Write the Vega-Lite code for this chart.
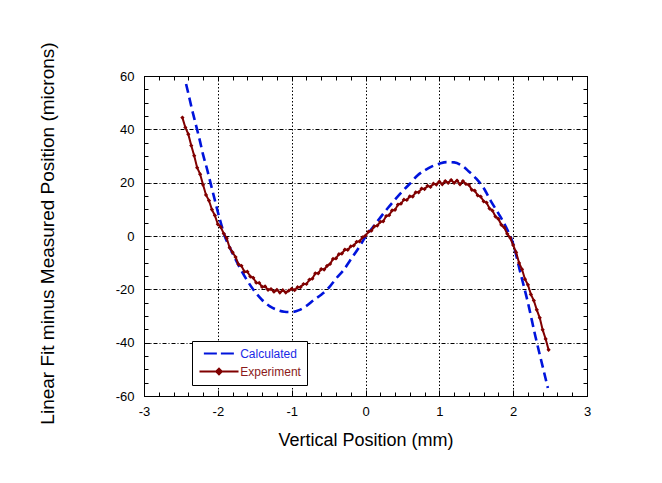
{
  "$schema": "https://vega.github.io/schema/vega-lite/v6.json",
  "width": 443,
  "height": 320,
  "autosize": {"type": "none"},
  "padding": {"left": 144, "top": 76, "right": 75, "bottom": 87},
  "background": "white",
  "config": {
    "font": "Liberation Sans",
    "view": {"stroke": "black", "strokeWidth": 1},
    "axis": {
      "domain": false,
      "tickColor": "black",
      "tickWidth": 1,
      "labelColor": "black",
      "titleColor": "black",
      "labelFont": "Liberation Sans",
      "titleFont": "Liberation Sans",
      "titleFontWeight": "normal",
      "labelFontSize": 13,
      "labelFlush": false,
      "labelOverlap": false
    }
  },
  "datasets": {
    "calc": [
      {"x": -2.43, "y": 57}, {"x": -2.4, "y": 53.5}, {"x": -2.35, "y": 47.5}, {"x": -2.3, "y": 42},
      {"x": -2.25, "y": 36.5}, {"x": -2.2, "y": 30.5}, {"x": -2.15, "y": 25.5}, {"x": -2.1, "y": 20},
      {"x": -2.05, "y": 14.5}, {"x": -2.0, "y": 9}, {"x": -1.95, "y": 4}, {"x": -1.9, "y": -0.5},
      {"x": -1.85, "y": -3.6}, {"x": -1.8, "y": -6.5}, {"x": -1.7, "y": -12}, {"x": -1.6, "y": -16.8},
      {"x": -1.5, "y": -20.8}, {"x": -1.4, "y": -24}, {"x": -1.3, "y": -26.3}, {"x": -1.2, "y": -27.7},
      {"x": -1.1, "y": -28.4}, {"x": -1.0, "y": -28.5}, {"x": -0.9, "y": -27.8}, {"x": -0.8, "y": -26.2},
      {"x": -0.7, "y": -24}, {"x": -0.6, "y": -22}, {"x": -0.5, "y": -19.5}, {"x": -0.4, "y": -16},
      {"x": -0.3, "y": -12.9}, {"x": -0.2, "y": -8.8}, {"x": -0.1, "y": -4.8}, {"x": 0, "y": -0.3},
      {"x": 0.1, "y": 3.3}, {"x": 0.2, "y": 6.9}, {"x": 0.3, "y": 10.4}, {"x": 0.4, "y": 13.7},
      {"x": 0.5, "y": 16.8}, {"x": 0.6, "y": 19.6}, {"x": 0.7, "y": 22.6}, {"x": 0.8, "y": 24.6},
      {"x": 0.9, "y": 26.1}, {"x": 1.0, "y": 27.1}, {"x": 1.1, "y": 27.7}, {"x": 1.2, "y": 27.6},
      {"x": 1.3, "y": 26.5}, {"x": 1.4, "y": 24.2}, {"x": 1.5, "y": 21.5}, {"x": 1.6, "y": 18},
      {"x": 1.7, "y": 13}, {"x": 1.8, "y": 8.5}, {"x": 1.9, "y": 3.5}, {"x": 2.0, "y": -3},
      {"x": 2.1, "y": -14}, {"x": 2.2, "y": -25}, {"x": 2.3, "y": -37.5}, {"x": 2.4, "y": -49},
      {"x": 2.47, "y": -57}
    ],
    "exp": [
      {"x": -2.48, "y": 44.4}, {"x": -2.44, "y": 40.7}, {"x": -2.40, "y": 38.2}, {"x": -2.36, "y": 33.9},
      {"x": -2.32, "y": 30.1}, {"x": -2.28, "y": 25.6}, {"x": -2.24, "y": 23.2}, {"x": -2.20, "y": 19.2},
      {"x": -2.16, "y": 15.4}, {"x": -2.12, "y": 13.3}, {"x": -2.08, "y": 9.9}, {"x": -2.04, "y": 7.7},
      {"x": -2.00, "y": 4.4}, {"x": -1.96, "y": 3.3}, {"x": -1.92, "y": 0.9}, {"x": -1.88, "y": -0.8},
      {"x": -1.84, "y": -4.4}, {"x": -1.80, "y": -6.1}, {"x": -1.76, "y": -7.9}, {"x": -1.72, "y": -10.6},
      {"x": -1.68, "y": -11.2}, {"x": -1.64, "y": -13.4}, {"x": -1.60, "y": -13.4}, {"x": -1.56, "y": -15.2},
      {"x": -1.52, "y": -15.7}, {"x": -1.48, "y": -17.5}, {"x": -1.44, "y": -17.6}, {"x": -1.40, "y": -19.1},
      {"x": -1.36, "y": -18.9}, {"x": -1.32, "y": -20.2}, {"x": -1.28, "y": -19.9}, {"x": -1.24, "y": -20.9},
      {"x": -1.20, "y": -20.2}, {"x": -1.16, "y": -21.2}, {"x": -1.12, "y": -20.3}, {"x": -1.08, "y": -21.2},
      {"x": -1.04, "y": -20.5}, {"x": -1.00, "y": -19.8}, {"x": -0.96, "y": -20.3}, {"x": -0.92, "y": -19.2},
      {"x": -0.88, "y": -19.2}, {"x": -0.84, "y": -18.0}, {"x": -0.80, "y": -18.0}, {"x": -0.76, "y": -16.4},
      {"x": -0.72, "y": -16.0}, {"x": -0.68, "y": -14.0}, {"x": -0.64, "y": -14.0}, {"x": -0.60, "y": -12.4},
      {"x": -0.56, "y": -12.6}, {"x": -0.52, "y": -11.2}, {"x": -0.48, "y": -10.5}, {"x": -0.44, "y": -8.6},
      {"x": -0.40, "y": -8.4}, {"x": -0.36, "y": -6.8}, {"x": -0.32, "y": -6.6}, {"x": -0.28, "y": -5.1},
      {"x": -0.24, "y": -5.2}, {"x": -0.20, "y": -3.9}, {"x": -0.16, "y": -3.6}, {"x": -0.12, "y": -2.2},
      {"x": -0.08, "y": -2.0}, {"x": -0.04, "y": -0.5}, {"x": 0.00, "y": 0.1}, {"x": 0.04, "y": 1.6},
      {"x": 0.08, "y": 2.0}, {"x": 0.12, "y": 3.6}, {"x": 0.16, "y": 3.9}, {"x": 0.20, "y": 5.3},
      {"x": 0.24, "y": 5.5}, {"x": 0.28, "y": 7.5}, {"x": 0.32, "y": 7.8}, {"x": 0.36, "y": 9.6},
      {"x": 0.40, "y": 9.8}, {"x": 0.44, "y": 11.8}, {"x": 0.48, "y": 12.1}, {"x": 0.52, "y": 13.6},
      {"x": 0.56, "y": 13.5}, {"x": 0.60, "y": 14.9}, {"x": 0.64, "y": 14.8}, {"x": 0.68, "y": 16.4},
      {"x": 0.72, "y": 16.4}, {"x": 0.76, "y": 17.8}, {"x": 0.80, "y": 17.6}, {"x": 0.84, "y": 18.8},
      {"x": 0.88, "y": 18.4}, {"x": 0.92, "y": 19.6}, {"x": 0.96, "y": 19.3}, {"x": 1.00, "y": 20.4},
      {"x": 1.04, "y": 19.4}, {"x": 1.08, "y": 20.6}, {"x": 1.12, "y": 19.9}, {"x": 1.16, "y": 21.0},
      {"x": 1.20, "y": 19.9}, {"x": 1.24, "y": 20.8}, {"x": 1.28, "y": 19.4}, {"x": 1.32, "y": 20.6},
      {"x": 1.36, "y": 19.5}, {"x": 1.40, "y": 19.2}, {"x": 1.44, "y": 17.3}, {"x": 1.48, "y": 17.0},
      {"x": 1.52, "y": 15.2}, {"x": 1.56, "y": 14.8}, {"x": 1.60, "y": 13.0}, {"x": 1.64, "y": 12.5},
      {"x": 1.68, "y": 10.3}, {"x": 1.72, "y": 9.5}, {"x": 1.76, "y": 7.3}, {"x": 1.80, "y": 6.4},
      {"x": 1.84, "y": 4.2}, {"x": 1.88, "y": 3.2}, {"x": 1.92, "y": 0.8}, {"x": 1.96, "y": -0.7},
      {"x": 2.00, "y": -3.4}, {"x": 2.04, "y": -6.1}, {"x": 2.08, "y": -10.1}, {"x": 2.12, "y": -12.5},
      {"x": 2.16, "y": -16.2}, {"x": 2.20, "y": -18.3}, {"x": 2.24, "y": -21.9}, {"x": 2.28, "y": -24.2},
      {"x": 2.32, "y": -27.7}, {"x": 2.36, "y": -30.7}, {"x": 2.40, "y": -35.2}, {"x": 2.44, "y": -38.6},
      {"x": 2.48, "y": -42.7}
    ]
  },
  "resolve": {"axis": {"x": "independent", "y": "independent"}},
  "layer": [
    {
      "data": {"name": "calc"},
      "mark": {"type": "line", "strokeWidth": 2.6, "strokeDash": [9, 5], "interpolate": "monotone"},
      "encoding": {
        "x": {
          "field": "x", "type": "quantitative",
          "scale": {"domain": [-3, 3], "nice": false, "zero": false},
          "axis": {
            "orient": "bottom",
            "values": [-3, -2, -1, 0, 1, 2, 3],
            "tickSize": -6,
            "labelPadding": 15,
            "labelExpr": "toString(datum.value)",
            "grid": true,
            "gridColor": "black",
            "gridWidth": 1,
            "gridDash": [1.5, 2],
            "title": "Vertical Position (mm)",
            "titleFontSize": 18,
            "titleY": 49,
            "titleBaseline": "alphabetic"
          }
        },
        "y": {
          "field": "y", "type": "quantitative",
          "scale": {"domain": [-60, 60], "nice": false, "zero": false},
          "axis": {
            "orient": "left",
            "values": [-60, -40, -20, 0, 20, 40, 60],
            "tickSize": -6,
            "labelPadding": 16,
            "labelExpr": "toString(datum.value)",
            "grid": true,
            "gridColor": "black",
            "gridWidth": 1,
            "gridDash": [4, 2, 1, 2],
            "title": "Linear Fit minus Measured Position (microns)",
            "titleFontSize": 19,
            "titleAngle": -90,
            "titleX": -91,
            "titleY": 157,
            "titleAlign": "center",
            "titleBaseline": "alphabetic"
          }
        },
        "color": {
          "datum": "Calculated",
          "scale": {"domain": ["Calculated", "Experiment"], "range": ["#0014dc", "#800000"]},
          "legend": {
            "orient": "none",
            "legendX": 48,
            "legendY": 265,
            "title": null,
            "direction": "vertical",
            "fillColor": "white",
            "strokeColor": "black",
            "padding": 6,
            "rowPadding": 4,
            "symbolSize": 121,
            "symbolOffset": 14.5,
            "symbolStrokeWidth": 2,
            "labelOffset": 14.7,
            "labelFont": "Liberation Sans",
            "labelFontSize": 12,
            "encode": {
              "symbols": {
                "update": {
                  "shape": {"signal": "datum.value === 'Calculated' ? 'M-2.75,0H2.75' : 'M-3.55,0H3.55M-0.5,0L0,-0.5L0.5,0L0,0.5Z'"},
                  "strokeDash": {"signal": "datum.value === 'Calculated' ? [13, 4] : [100, 0]"},
                  "stroke": {"signal": "datum.value === 'Calculated' ? '#0014dc' : '#800000'"},
                  "fill": {"signal": "datum.value === 'Calculated' ? 'transparent' : '#800000'"}
                }
              },
              "labels": {
                "update": {
                  "fill": {"signal": "datum.value === 'Calculated' ? '#1a2ae6' : '#8b1a1a'"}
                }
              }
            }
          }
        }
      }
    },
    {
      "data": {"name": "exp"},
      "mark": {"type": "line", "strokeWidth": 2},
      "encoding": {
        "x": {
          "field": "x", "type": "quantitative",
          "axis": {
            "orient": "top",
            "values": [-3, -2.8, -2.6, -2.4, -2.2, -2, -1.8, -1.6, -1.4, -1.2, -1, -0.8, -0.6, -0.4, -0.2, 0, 0.2, 0.4, 0.6, 0.8, 1, 1.2, 1.4, 1.6, 1.8, 2, 2.2, 2.4, 2.6, 2.8, 3],
            "tickSize": -4, "labels": false, "grid": false, "title": null
          }
        },
        "y": {
          "field": "y", "type": "quantitative",
          "axis": {
            "orient": "right",
            "values": [-60, -55, -50, -45, -40, -35, -30, -25, -20, -15, -10, -5, 0, 5, 10, 15, 20, 25, 30, 35, 40, 45, 50, 55, 60],
            "tickSize": -4, "labels": false, "grid": false, "title": null
          }
        },
        "color": {"datum": "Experiment"}
      }
    },
    {
      "data": {"name": "exp"},
      "mark": {"type": "point", "shape": "diamond", "filled": true, "size": 18, "opacity": 1},
      "encoding": {
        "x": {
          "field": "x", "type": "quantitative",
          "axis": {
            "orient": "bottom",
            "values": [-3, -2.8, -2.6, -2.4, -2.2, -2, -1.8, -1.6, -1.4, -1.2, -1, -0.8, -0.6, -0.4, -0.2, 0, 0.2, 0.4, 0.6, 0.8, 1, 1.2, 1.4, 1.6, 1.8, 2, 2.2, 2.4, 2.6, 2.8, 3],
            "tickSize": -4, "labels": false, "grid": false, "title": null
          }
        },
        "y": {
          "field": "y", "type": "quantitative",
          "axis": {
            "orient": "left",
            "values": [-60, -55, -50, -45, -40, -35, -30, -25, -20, -15, -10, -5, 0, 5, 10, 15, 20, 25, 30, 35, 40, 45, 50, 55, 60],
            "tickSize": -4, "labels": false, "grid": false, "title": null
          }
        },
        "color": {"datum": "Experiment"}
      }
    }
  ]
}
